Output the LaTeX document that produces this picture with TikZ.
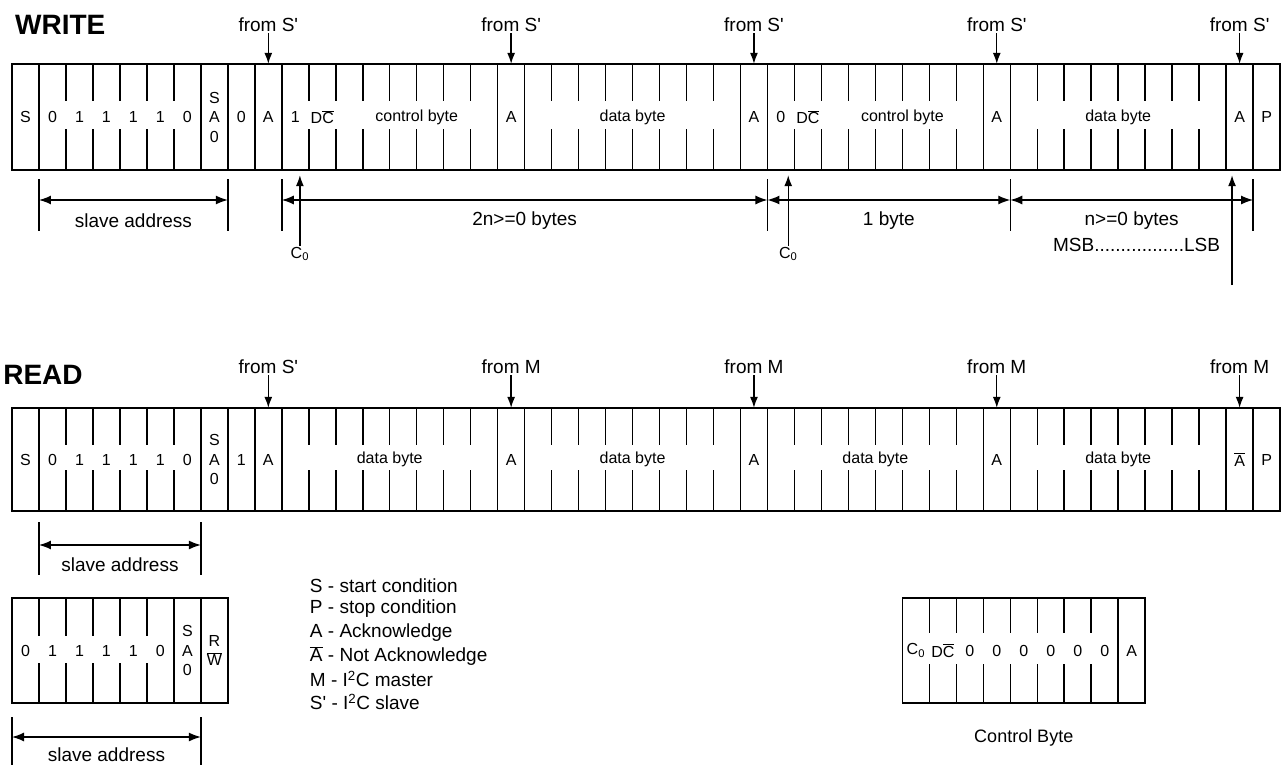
\documentclass[tikz,border=0pt]{standalone}
\usepackage{fontspec}
\setmainfont{Liberation Sans}
\usetikzlibrary{arrows.meta}

\tikzset{
  frm/.style={line width=1.5pt},
  sm/.style={inner sep=1pt, font=\fontsize{16}{19.5}\selectfont},
  cell/.style={sm, inner sep=0pt, minimum width=26.98pt, align=center},
  lbl/.style={inner sep=1pt, font=\fontsize{19}{22}\selectfont},
  ttl/.style={anchor=west, inner sep=0pt, font=\fontsize{28}{32}\selectfont\bfseries},
  ptr/.style={line width=1.3pt, -{Latex[length=11pt,width=8pt]}},
  dimarr/.style={line width=1.3pt, {Latex[length=12pt,width=9pt]}-{Latex[length=12pt,width=9pt]}},
}

\begin{document}
\begin{tikzpicture}[x=26.98pt, y=-1pt]
  \useasboundingbox (-0.445,0) rectangle (47.257,765);
  \node[ttl] (write) at (0.11,25) {WRITE};
  \node[ttl] (read) at (-0.33,375) {READ};

  % the two long frames
  \foreach \ytop/\ybot in {64/170,408/511}{
    \draw[frm] (0,\ytop) rectangle (47,\ybot);
    \foreach \i in {1,7,8,9,10,18,19,27,28,36,37,45,46}
      \draw[frm] (\i,\ytop) -- (\i,\ybot);
    \foreach \i in {2,3,4,5,6,11,12,13,14,15,16,17,20,21,22,23,24,25,26,29,30,31,32,33,34,35,38,39,40,41,42,43,44}{
      \draw[frm] (\i,\ytop) -- ++(0,37);
      \draw[frm] (\i,\ybot) -- ++(0,-41);
    }
  }

  % write cells
 \begin{scope}[every node/.style={cell, minimum height=106pt}]
  \node (wS) at (0.5,117) {S};
  \foreach \bit [count=\k] in {0,1,1,1,1,0}
    \node (wb\k) at (\k+0.5,117) {\bit};
  \node (wsa) at (7.5,117) {S\\A\\0};
  \node (wrw) at (8.5,117) {0};
  \node (wA1) at (9.5,117) {A};
  \node (wco1) at (10.5,117) {1};
  \node (wdc1) at (11.5,117) {D$\overline{\mbox{C}}$};
  \node (wctl1) at (15,117) {control byte};
  \node (wA2) at (18.5,117) {A};
  \node (wdat1) at (23,117) {data byte};
  \node (wA3) at (27.5,117) {A};
  \node (wco2) at (28.5,117) {0};
  \node (wdc2) at (29.5,117) {D$\overline{\mbox{C}}$};
  \node (wctl2) at (33,117) {control byte};
  \node (wA4) at (36.5,117) {A};
  \node (wdat2) at (41,117) {data byte};
  \node (wA5) at (45.5,117) {A};
  \node (wP) at (46.5,117) {P};
 \end{scope}

  \node[lbl] (wf1) at (9.5,25) {from S\textquotesingle};
  \node[lbl] (wf2) at (18.5,25) {from S\textquotesingle};
  \node[lbl] (wf3) at (27.5,25) {from S\textquotesingle};
  \node[lbl] (wf4) at (36.5,25) {from S\textquotesingle};
  \node[lbl] (wf5) at (45.5,25) {from S\textquotesingle};
  \draw[ptr] (wf1) -- (wA1);
  \draw[ptr] (wf2) -- (wA2);
  \draw[ptr] (wf3) -- (wA3);
  \draw[ptr] (wf4) -- (wA4);
  \draw[ptr] (wf5) -- (wA5);

  % write byte counts
  \foreach \i in {1,8,10,28,37,46}
    \draw[frm] (\i,179) -- (\i,231);
  \coordinate (wd1) at (1,200);
  \coordinate (wd8) at (8,200);
  \coordinate (wd10) at (10,200);
  \coordinate (wd28) at (28,200);
  \coordinate (wd37) at (37,200);
  \coordinate (wd46) at (46,200);
  \draw[dimarr] (wd1) -- (wd8);
  \draw[dimarr] (wd10) -- (wd28);
  \draw[dimarr] (wd28) -- (wd37);
  \draw[dimarr] (wd37) -- (wd46);
  \node[lbl] (wsl) at (4.5,221) {slave address};
  \node[lbl] (wn2) at (19,221) {2n>=0 bytes};
  \node[lbl] (wn1) at (32.5,221) {1 byte};
  \node[lbl] (wn0) at (41.5,221) {n>=0 bytes};
  \node[lbl] (wmsb) at (41.68,245) {MSB.................LSB};

  \node[sm] (wc1) at (10.67,254) {C\textsubscript{0}};
  \node[sm] (wc2) at (28.77,254) {C\textsubscript{0}};
  \coordinate (wend) at (45.22,285);
  \draw[ptr, shorten >=5pt] (wc1) -- (wc1 |- wco1.south);
  \draw[ptr, shorten >=5pt] (wc2) -- (wc2 |- wco2.south);
  \draw[ptr, shorten >=5pt] (wend) -- (wend |- wA5.south);

  % read cells
 \begin{scope}[every node/.style={cell, minimum height=103pt}]
  \node (rS) at (0.5,459.5) {S};
  \foreach \bit [count=\k] in {0,1,1,1,1,0}
    \node (rb\k) at (\k+0.5,459.5) {\bit};
  \node (rsa) at (7.5,459.5) {S\\A\\0};
  \node (rrw) at (8.5,459.5) {1};
  \node (rA1) at (9.5,459.5) {A};
  \node (rdat1) at (14,459.5) {data byte};
  \node (rA2) at (18.5,459.5) {A};
  \node (rdat2) at (23,459.5) {data byte};
  \node (rA3) at (27.5,459.5) {A};
  \node (rdat3) at (32,459.5) {data byte};
  \node (rA4) at (36.5,459.5) {A};
  \node (rdat4) at (41,459.5) {data byte};
  \node (rA5) at (45.5,459.5) {$\overline{\mbox{A}}$};
  \node (rP) at (46.5,459.5) {P};
 \end{scope}

  \node[lbl] (rf1) at (9.5,367) {from S\textquotesingle};
  \node[lbl] (rf2) at (18.5,367) {from M};
  \node[lbl] (rf3) at (27.5,367) {from M};
  \node[lbl] (rf4) at (36.5,367) {from M};
  \node[lbl] (rf5) at (45.5,367) {from M};
  \draw[ptr] (rf1) -- (rA1);
  \draw[ptr] (rf2) -- (rA2);
  \draw[ptr] (rf3) -- (rA3);
  \draw[ptr] (rf4) -- (rA4);
  \draw[ptr] (rf5) -- (rA5);

  \draw[frm] (1,522) -- (1,575);
  \draw[frm] (7,522) -- (7,575);
  \coordinate (rd1) at (1,545);
  \coordinate (rd7) at (7,545);
  \draw[dimarr] (rd1) -- (rd7);
  \node[lbl] (rsl) at (4,565) {slave address};

  % address byte
  \draw[frm] (0,598) rectangle (8,703);
  \draw[frm] (6,598) -- (6,703);
  \draw[frm] (7,598) -- (7,703);
  \foreach \i in {1,2,3,4,5}{
    \draw[frm] (\i,598) -- ++(0,38);
    \draw[frm] (\i,703) -- ++(0,-40);
  }
 \begin{scope}[every node/.style={cell, minimum height=105pt}]
  \foreach \bit [count=\k from 0] in {0,1,1,1,1,0}
    \node (ab\k) at (\k+0.5,650.5) {\bit};
  \node (asa) at (6.5,650.5) {S\\A\\0};
  \node (arw) at (7.5,650.5) {R\\$\overline{\mbox{W}}$};
 \end{scope}
  \draw[frm] (0,717) -- (0,775);
  \draw[frm] (7,717) -- (7,775);
  \coordinate (ad0) at (0,737);
  \coordinate (ad7) at (7,737);
  \draw[dimarr] (ad0) -- (ad7);
  \node[lbl] (asl) at (3.5,755) {slave address};

  % legend
  \node[lbl, anchor=west] (lg1) at (11,586) {S - start condition};
  \node[lbl, anchor=west] (lg2) at (11,609) {P - stop condition};
  \node[lbl, anchor=west] (lg3) at (11,633) {A - Acknowledge};
  \node[lbl, anchor=west] (lg4) at (11,656) {$\overline{\mbox{A}}$ - Not Acknowledge};
  \node[lbl, anchor=west] (lg5) at (11,679) {M - I\textsuperscript{2}C master};
  \node[lbl, anchor=west] (lg6) at (11,702) {S\textquotesingle{} - I\textsuperscript{2}C slave};

  % control byte
  \draw[frm] (33,598) rectangle (42,703);
  \draw[frm] (41,598) -- (41,703);
  \foreach \i in {34,35,36,37,38,39,40}{
    \draw[frm] (\i,598) -- ++(0,35);
    \draw[frm] (\i,703) -- ++(0,-39);
  }
 \begin{scope}[every node/.style={cell, minimum height=105pt}]
  \node (cco) at (33.5,650.5) {C\textsubscript{0}};
  \node (cdc) at (34.5,650.5) {D$\overline{\mbox{C}}$};
  \foreach \k in {1,...,6}
    \node (cb\k) at (\k+34.5,650.5) {0};
  \node (cA) at (41.5,650.5) {A};
 \end{scope}
  \node[font=\fontsize{18}{21}\selectfont] (ctl) at (37.5,738) {Control Byte};
\end{tikzpicture}
\end{document}
